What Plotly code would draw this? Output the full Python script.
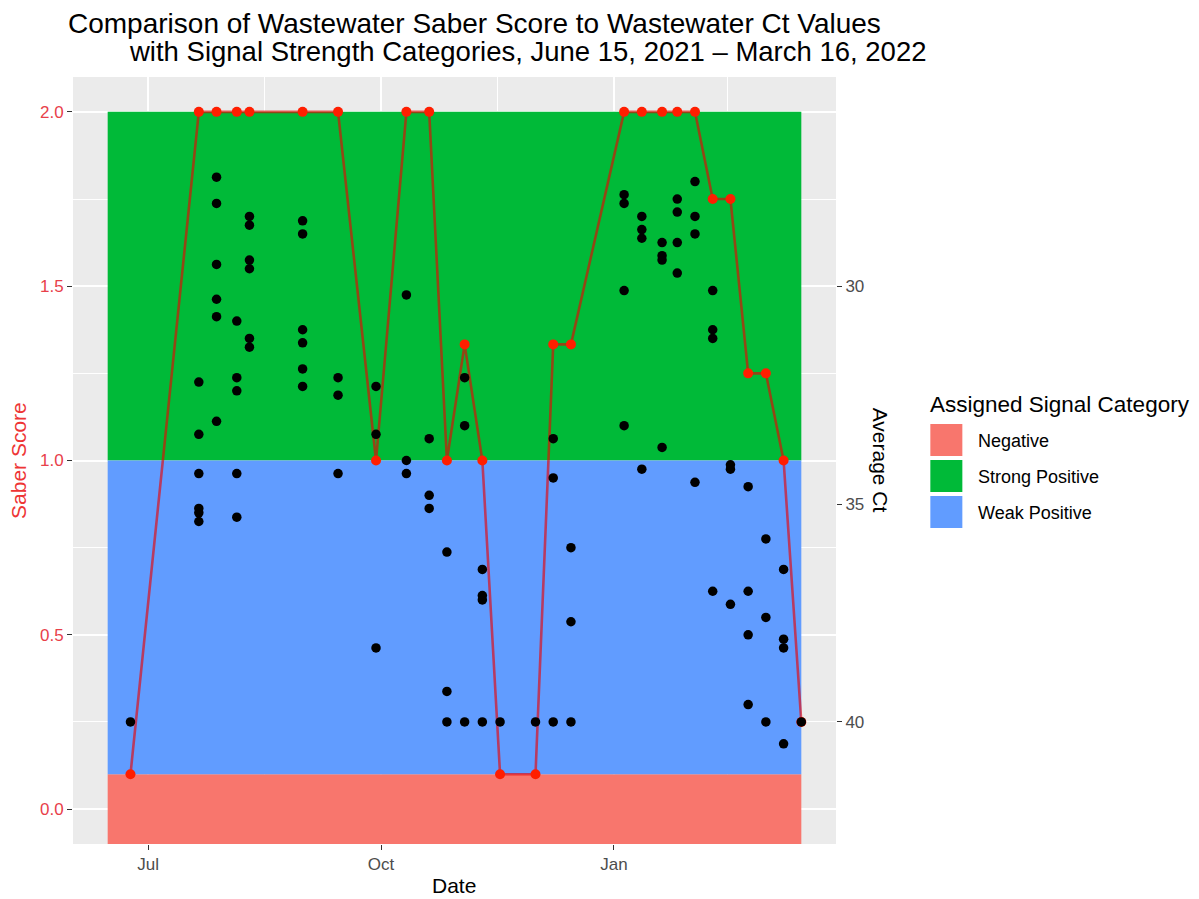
import pandas as pd
import plotly.graph_objects as go

# ---------------- data ----------------
sample_dates = ["2021-06-24", "2021-07-21", "2021-07-28", "2021-08-05", "2021-08-10",
                "2021-08-31", "2021-09-14", "2021-09-29", "2021-10-11", "2021-10-20",
                "2021-10-27", "2021-11-03", "2021-11-10", "2021-11-17", "2021-12-01",
                "2021-12-08", "2021-12-15", "2022-01-05", "2022-01-12", "2022-01-20",
                "2022-01-26", "2022-02-02", "2022-02-09", "2022-02-16", "2022-02-23",
                "2022-03-02", "2022-03-09", "2022-03-16"]

saber_score = [0.1, 2.0, 2.0, 2.0, 2.0,
               2.0, 2.0, 1.0, 2.0, 2.0,
               1.0, 1.333, 1.0, 0.1, 0.1,
               1.333, 1.333, 2.0, 2.0, 2.0,
               2.0, 2.0, 1.75, 1.75, 1.25,
               1.25, 1.0, 0.25]

average_ct = [[40.0],
              [32.2, 33.4, 34.3, 35.1, 35.2, 35.4],
              [27.5, 28.1, 29.5, 30.3, 30.7, 33.1],
              [30.8, 32.1, 32.4, 34.3, 35.3],
              [28.4, 28.6, 29.4, 29.6, 31.2, 31.4],
              [28.5, 28.8, 31.0, 31.3, 31.9, 32.3],
              [32.1, 32.5, 34.3],
              [32.3, 33.4, 38.3],
              [30.2, 34.0, 34.3],
              [33.5, 34.8, 35.1],
              [36.1, 39.3, 40.0],
              [32.1, 33.2, 40.0],
              [36.5, 37.1, 37.2, 40.0],
              [40.0],
              [40.0],
              [33.5, 34.4, 40.0],
              [36.0, 37.7, 40.0],
              [27.9, 28.1, 30.1, 33.2],
              [28.4, 28.7, 28.9, 34.2],
              [29.0, 29.3, 29.4, 33.7],
              [28.0, 28.3, 29.0, 29.7],
              [27.6, 28.4, 28.8, 34.5],
              [30.1, 31.0, 31.2, 37.0],
              [34.1, 34.2, 37.3],
              [34.6, 37.0, 38.0, 39.6],
              [35.8, 37.6, 40.0],
              [36.5, 38.1, 38.3, 40.5],
              [40.0]]

category_names = ["Negative", "Strong Positive", "Weak Positive"]
category_low = [None, 1.0, 0.1]      # None = bottom of panel
category_high = [0.1, 2.0, 1.0]
period_start = "2021-06-15"
period_end = "2022-03-16"

x_tick_vals = ["2021-07-01", "2021-10-01", "2022-01-01"]
x_tick_text = ["Jul", "Oct", "Jan"]
x_minor_vals = ["2021-08-16", "2021-11-16", "2022-02-15"]
y_tick_vals = [0.0, 0.5, 1.0, 1.5, 2.0]
y_minor_vals = [0.25, 0.75, 1.25, 1.75]
ct_tick_vals = [30, 35, 40]

# ---------------- style ----------------
category_colors = {"Negative": "#F8766D", "Strong Positive": "#00BA38", "Weak Positive": "#619CFF"}
CT_OFFSET, CT_SLOPE = 42.0, 8.0   # Ct = 42 - 8 * saber (secondary axis transform)
PAGE_OFF = 8                       # default body margin of the html page
W, H = 1199 - PAGE_OFF, 899 - PAGE_OFF
P_LEFT, P_RIGHT, P_TOP, P_BOTTOM = 73, 835.7, 77, 844   # panel edges in window pixels
ML = P_LEFT - PAGE_OFF
MT = P_TOP - PAGE_OFF
MR = W - (P_RIGHT - PAGE_OFF)
MB = H - (P_BOTTOM - PAGE_OFF)
PW, PH = P_RIGHT - P_LEFT, P_BOTTOM - P_TOP
FONT = "Liberation Sans, Arial, sans-serif"
RED_TXT = "#E8404A"


def px_x(px):
    return (px - P_LEFT) / PW


def px_y(py):
    return (P_BOTTOM - py) / PH


# axis ranges (ggplot 5% expansion)
t0, t1 = pd.Timestamp(period_start), pd.Timestamp(period_end)
span = t1 - t0
x_range = [t0 - span * 0.05, t1 + span * 0.05]
y_lo, y_hi = 0.0, 2.0
y_range = [y_lo - 0.05 * (y_hi - y_lo), y_hi + 0.05 * (y_hi - y_lo)]
ct_range = [CT_OFFSET - CT_SLOPE * y_range[0], CT_OFFSET - CT_SLOPE * y_range[1]]

fig = go.Figure()

shapes = []
for name, lo, hi in zip(category_names, category_low, category_high):
    shapes.append(dict(type="rect", xref="x", yref="y", layer="between",
                       x0=period_start, x1=period_end,
                       y0=y_range[0] if lo is None else lo, y1=hi,
                       fillcolor=category_colors[name], line=dict(width=0)))

# saber score line + points
fig.add_trace(go.Scatter(x=sample_dates, y=saber_score, mode="lines",
                         line=dict(color="rgba(235,0,0,0.62)", width=2.6),
                         showlegend=False, hoverinfo="skip"))
fig.add_trace(go.Scatter(x=sample_dates, y=saber_score, mode="markers",
                         marker=dict(color="#FF1E00", size=10),
                         showlegend=False))

# Ct points on secondary axis
ct_x, ct_y = [], []
for d, vals in zip(sample_dates, average_ct):
    for v in vals:
        ct_x.append(d)
        ct_y.append(v)
fig.add_trace(go.Scatter(x=ct_x, y=ct_y, mode="markers", yaxis="y2",
                         marker=dict(color="black", size=9.5),
                         showlegend=False))

annotations = [
    dict(text="Comparison of Wastewater Saber Score to Wastewater Ct Values",
         x=px_x(66), y=px_y(23), xref="paper", yref="paper", xanchor="left", yanchor="middle",
         showarrow=False, font=dict(family=FONT, size=28, color="black")),
    dict(text="with Signal Strength Categories, June 15, 2021 \u2013 March 16, 2022",
         x=px_x(127), y=px_y(52), xref="paper", yref="paper", xanchor="left", yanchor="middle",
         showarrow=False, font=dict(family=FONT, size=27.5, color="black")),
    dict(text="Saber Score", x=px_x(19), y=px_y(460), xref="paper", yref="paper",
         textangle=-90, showarrow=False, xanchor="center", yanchor="middle",
         font=dict(family=FONT, size=21, color="#EE3535")),
    dict(text="Average Ct", x=px_x(880), y=px_y(460), xref="paper", yref="paper",
         textangle=90, showarrow=False, xanchor="center", yanchor="middle",
         font=dict(family=FONT, size=21, color="black")),
    dict(text="Date", x=px_x(454), y=px_y(886), xref="paper", yref="paper",
         showarrow=False, xanchor="center", yanchor="middle",
         font=dict(family=FONT, size=21, color="black")),
    dict(text="Assigned Signal Category", x=px_x(928), y=px_y(404), xref="paper", yref="paper",
         showarrow=False, xanchor="left", yanchor="middle",
         font=dict(family=FONT, size=22.5, color="black")),
]

# manual legend
key_top = 424
for i, name in enumerate(category_names):
    top = key_top + i * 36
    shapes.append(dict(type="rect", xref="paper", yref="paper",
                       x0=px_x(930), x1=px_x(962), y0=px_y(top + 32), y1=px_y(top),
                       fillcolor=category_colors[name], line=dict(width=0)))
    annotations.append(dict(text=name, x=px_x(976), y=px_y(top + 17), xref="paper", yref="paper",
                            showarrow=False, xanchor="left", yanchor="middle",
                            font=dict(family=FONT, size=18, color="black")))

fig.update_layout(
    width=W, height=H,
    margin=dict(l=ML, r=MR, t=MT, b=MB),
    paper_bgcolor="white", plot_bgcolor="#EBEBEB",
    showlegend=False,
    font=dict(family=FONT, color="#4D4D4D"),
    shapes=shapes, annotations=annotations,
    xaxis=dict(type="date", range=x_range, tickvals=x_tick_vals, ticktext=x_tick_text,
               showgrid=True, gridcolor="white", gridwidth=1.6, zeroline=False,
               ticks="outside", ticklen=5, tickwidth=1.3, tickcolor="#333333",
               tickfont=dict(family=FONT, size=17, color="#4D4D4D"),
               minor=dict(tickvals=x_minor_vals, showgrid=True, gridcolor="white", gridwidth=0.8, ticks=""),
               showline=False),
    yaxis=dict(range=y_range, tickvals=y_tick_vals, tickformat=".1f",
               showgrid=True, gridcolor="white", gridwidth=1.6, zeroline=False,
               ticks="outside", ticklen=5, tickwidth=1.3, tickcolor="#333333",
               tickfont=dict(family=FONT, size=17, color=RED_TXT),
               minor=dict(tickvals=y_minor_vals, showgrid=True, gridcolor="white", gridwidth=0.8, ticks=""),
               showline=False),
    yaxis2=dict(overlaying="y", side="right", range=ct_range, tickvals=ct_tick_vals,
                showgrid=False, zeroline=False,
                ticks="outside", ticklen=5, tickwidth=1.3, tickcolor="#333333",
                tickfont=dict(family=FONT, size=17, color="#4D4D4D")),
)

fig.write_html("out.html")
